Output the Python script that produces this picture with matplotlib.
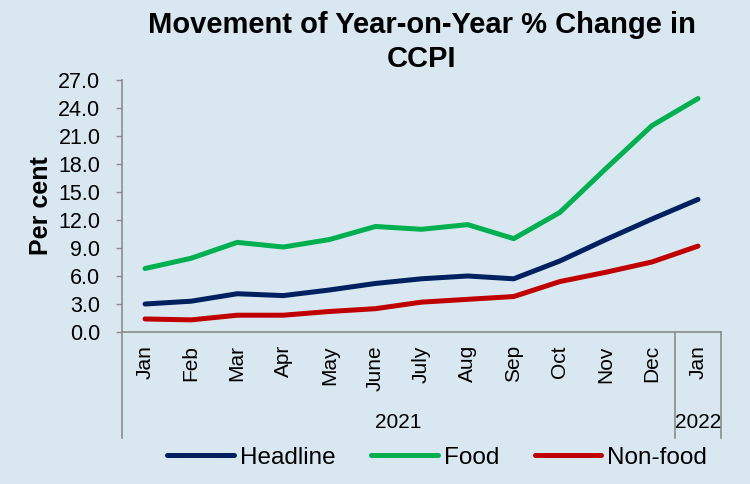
import matplotlib
matplotlib.use("Agg")
import matplotlib.pyplot as plt

plt.rcParams['font.family'] = ['Liberation Sans', 'DejaVu Sans']

months = ["Jan", "Feb", "Mar", "Apr", "May", "June", "July", "Aug", "Sep", "Oct", "Nov", "Dec", "Jan"]
years = ["2021", "2022"]
year_counts = [12, 1]
headline = [3.0, 3.3, 4.1, 3.9, 4.5, 5.2, 5.7, 6.0, 5.7, 7.6, 9.9, 12.1, 14.2]
food = [6.8, 7.9, 9.6, 9.1, 9.9, 11.3, 11.0, 11.5, 10.0, 12.8, 17.5, 22.1, 25.0]
nonfood = [1.4, 1.3, 1.8, 1.8, 2.2, 2.5, 3.2, 3.5, 3.8, 5.4, 6.4, 7.5, 9.2]
yticks = [0, 3, 6, 9, 12, 15, 18, 21, 24, 27]

bg = '#D9E7F0'
grey = '#8C8C8C'

fig = plt.figure(figsize=(7.5, 4.84), dpi=100, facecolor=bg)
ax = fig.add_axes([0.1627, 0.314, 0.7987, 0.521], facecolor=bg)

x = list(range(len(months)))
l1, = ax.plot(x, headline, color='#002060', lw=3.6, solid_capstyle='round', label='Headline')
l2, = ax.plot(x, food, color='#00B050', lw=3.6, solid_capstyle='round', label='Food')
l3, = ax.plot(x, nonfood, color='#C00000', lw=3.6, solid_capstyle='round', label='Non-food')

ax.set_xlim(-0.5, len(months) - 0.5)
ax.set_ylim(0, 27)
ax.set_yticks(yticks)
ax.set_yticklabels([f"{v:.1f}" for v in yticks], fontsize=15.5)
ax.set_xticks(x)
ax.set_xticklabels(months, rotation=90, fontsize=15, va='top')
ax.tick_params(axis='x', length=0, pad=9.5)
ax.tick_params(axis='y', length=4.5, width=1, color=grey, pad=11)

for s in ['top', 'right']:
    ax.spines[s].set_visible(False)
for s in ['left', 'bottom']:
    ax.spines[s].set_color(grey)
    ax.spines[s].set_linewidth(1.2)

ax.set_ylabel("Per cent", fontsize=18, fontweight='bold', labelpad=4)
ax.set_title("Movement of Year-on-Year % Change in\nCCPI", fontsize=21, fontweight='bold',
             linespacing=1.3, pad=9)

# category group box
n = len(months)
depth = -0.42
tr = ax.transAxes
bounds = [0]
for c in year_counts:
    bounds.append(bounds[-1] + c)
for b in bounds:
    xa = b / n
    ax.plot([xa, xa], [0, depth], transform=tr, color=grey, lw=1.2, clip_on=False)
start = 0
for yr, c in zip(years, year_counts):
    xc = (start + c / 2) / n
    ax.text(xc, -0.36, yr, transform=tr, ha='center', va='center', fontsize=15)
    start += c

leg = fig.legend(handles=[l1, l2, l3], loc='center', bbox_to_anchor=(0.583, 0.054), ncol=3,
                 frameon=False, fontsize=17.5, handlelength=2.75, handletextpad=0.25,
                 columnspacing=1.45)

fig.savefig("out.png", dpi=100, facecolor=bg)
